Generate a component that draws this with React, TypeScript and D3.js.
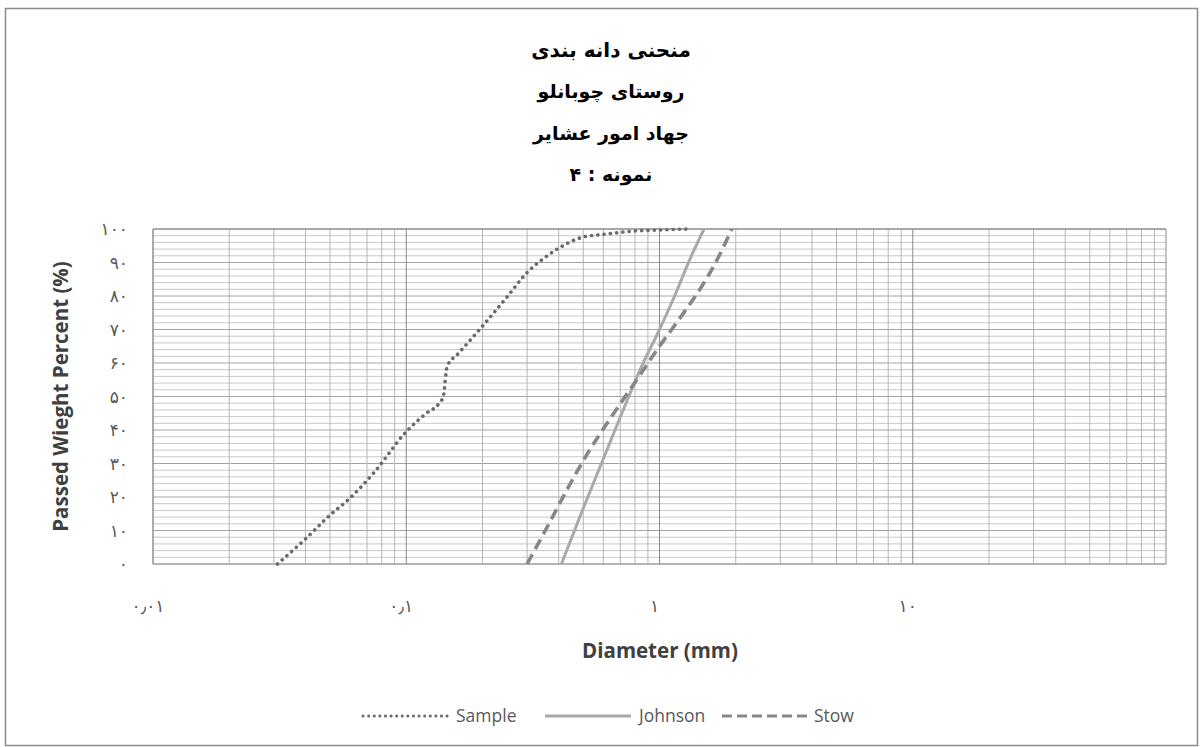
import React from "react";
import * as d3 from "d3";

const titleLines = ["منحنی دانه بندی", "روستای چوبانلو", "جهاد امور عشایر", "نمونه : ۴"];

const yTicks = [0, 10, 20, 30, 40, 50, 60, 70, 80, 90, 100];
const yTickLabels = ["۰", "۱۰", "۲۰", "۳۰", "۴۰", "۵۰", "۶۰", "۷۰", "۸۰", "۹۰", "۱۰۰"];
const xTicks = [0.01, 0.1, 1, 10];
const xTickLabels = ["۰٫۰۱", "۰٫۱", "۱", "۱۰"];

const sampleD = [0.031, 0.04, 0.05, 0.06, 0.075, 0.1, 0.12, 0.135, 0.14, 0.145, 0.16, 0.2, 0.25, 0.3, 0.35, 0.4, 0.5, 0.6, 0.8, 1.0, 1.3];
const sampleP = [0, 7.5, 14.6, 19.7, 27.5, 39.5, 45, 48, 50, 59, 62.7, 71, 79.7, 87, 91.3, 94.3, 97.6, 98.4, 99.4, 99.7, 100];

const johnsonD = [0.41, 0.49, 0.59, 0.71, 0.85, 1.0, 1.17, 1.31, 1.5];
const johnsonP = [0, 15, 30, 45, 59, 70, 81.5, 90.5, 100];

const stowD = [0.3, 0.36, 0.43, 0.52, 0.66, 0.83, 1.0, 1.22, 1.5, 1.72, 1.93];
const stowP = [0, 11, 22, 33, 45, 56, 65, 74, 84, 92, 100];

const W = 1204;
const H = 747;
const left = 153;
const right = 1166;
const top = 229;
const bottom = 564;

export default function App() {
  const x = d3.scaleLog().domain([0.01, 100]).range([left, right]);
  const y = d3.scaleLinear().domain([0, 100]).range([bottom, top]);

  const minorX: number[] = [];
  for (let e = -2; e < 2; e++) {
    for (let m = 1; m <= 9; m++) minorX.push(m * Math.pow(10, e));
  }
  minorX.push(100);
  const minorY = d3.range(0, 101, 2);

  const line = d3
    .line<[number, number]>()
    .x((d) => x(d[0]))
    .y((d) => y(d[1]))
    .curve(d3.curveMonotoneX);

  const series = [
    { name: "Sample", d: sampleD, p: sampleP, color: "#6a6a6a", width: 3.6, dash: "0.1 6.2", cap: "round" },
    { name: "Johnson", d: johnsonD, p: johnsonP, color: "#a9a9a9", width: 3, dash: "none", cap: "butt" },
    { name: "Stow", d: stowD, p: stowP, color: "#878787", width: 3.6, dash: "11 6", cap: "butt" },
  ];

  const persian = "'DejaVu Sans', 'Noto Sans', sans-serif";
  const latin = "'Open Sans', 'DejaVu Sans', sans-serif";

  const legendItems = [
    { x0: 363, x1: 450, tx: 456 },
    { x0: 545, x1: 631, tx: 639 },
    { x0: 722, x1: 808, tx: 814 },
  ];

  return (
    <div style={{ position: "absolute", left: 0, top: 0 }}>
      <svg width={W} height={H} style={{ display: "block", background: "#fff" }}>
        <rect x={5.5} y={8.5} width={1192} height={737} fill="#fff" stroke="#8c8c8c" strokeWidth={1.5} />

        {titleLines.map((t, i) => (
          <text
            key={i}
            x={611}
            y={57 + i * 41.3}
            textAnchor="middle"
            fontFamily={persian}
            fontWeight="bold"
            fontSize={i === 0 ? 20 : 19}
            fill="#000"
          >
            {t}
          </text>
        ))}

        {/* grid */}
        <g>
          {minorY.map((v) => (
            <line
              key={"hy" + v}
              x1={left}
              x2={right}
              y1={y(v)}
              y2={y(v)}
              stroke={v % 10 === 0 ? "#a3a3a3" : "#c8c8c8"}
              strokeWidth={1}
            />
          ))}
          {minorX.map((v, i) => {
            const major = Math.abs(Math.log10(v) - Math.round(Math.log10(v))) < 1e-9;
            return (
              <line
                key={"vx" + i}
                x1={x(v)}
                x2={x(v)}
                y1={top}
                y2={bottom}
                stroke={major ? "#8a8a8a" : "#b5b5b5"}
                strokeWidth={1}
              />
            );
          })}
          <line x1={left} x2={right} y1={top} y2={top} stroke="#9a9a9a" strokeWidth={1.5} />
          <line x1={left} x2={right} y1={bottom} y2={bottom} stroke="#9a9a9a" strokeWidth={1.2} />
          <line x1={left} x2={left} y1={top} y2={bottom} stroke="#9a9a9a" strokeWidth={1.2} />
        </g>

        {/* y tick labels */}
        {yTicks.map((v, i) => (
          <text
            key={"yt" + v}
            x={128}
            y={y(v) + 6}
            textAnchor="end"
            fontFamily={persian}
            fontSize={17}
            fill="#595959"
          >
            {yTickLabels[i]}
          </text>
        ))}

        {/* x tick labels */}
        {xTicks.map((v, i) => (
          <text
            key={"xt" + v}
            x={x(v) - 5}
            y={612}
            textAnchor="middle"
            fontFamily={persian}
            fontSize={17}
            fill="#595959"
          >
            {xTickLabels[i]}
          </text>
        ))}

        {/* series */}
        {series.map((s) => (
          <path
            key={s.name}
            d={line(s.d.map((dv, i) => [dv, s.p[i]] as [number, number])) || ""}
            fill="none"
            stroke={s.color}
            strokeWidth={s.width}
            strokeDasharray={s.dash}
            strokeLinecap={s.cap as any}
          />
        ))}

        {/* axis titles */}
        <text
          transform={`translate(68, ${(top + bottom) / 2}) rotate(-90)`}
          textAnchor="middle"
          fontFamily={latin}
          fontWeight="bold"
          fontSize={20.5}
          fill="#404040"
        >
          Passed Wieght Percent (%)
        </text>
        <text x={660} y={658} textAnchor="middle" fontFamily={latin} fontWeight="bold" fontSize={20.5} fill="#404040">
          Diameter (mm)
        </text>

        {/* legend */}
        {series.map((s, i) => (
          <g key={"lg" + s.name}>
            <line
              x1={legendItems[i].x0}
              x2={legendItems[i].x1}
              y1={716}
              y2={716}
              stroke={s.color}
              strokeWidth={s.name === "Sample" ? 3 : 3.2}
              strokeDasharray={s.name === "Sample" ? "0.1 5.5" : s.name === "Stow" ? "10 5" : "none"}
              strokeLinecap={s.cap as any}
            />
            <text x={legendItems[i].tx} y={722} fontFamily={latin} fontSize={17.5} fill="#595959">
              {s.name}
            </text>
          </g>
        ))}
      </svg>
    </div>
  );
}
